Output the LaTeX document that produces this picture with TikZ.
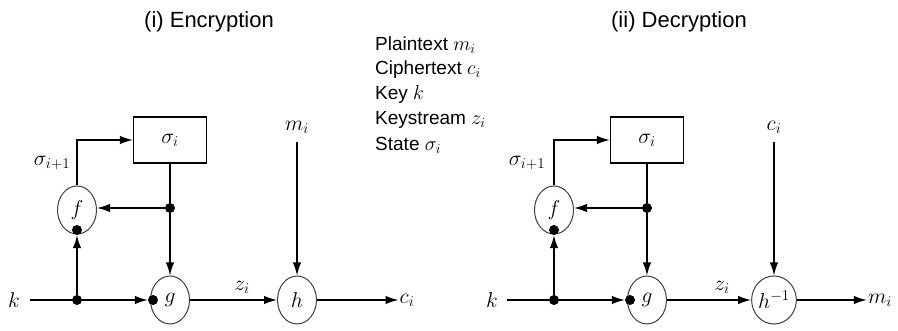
\documentclass[tikz,border=0pt]{standalone}
\usepackage{fontspec}
\setmainfont{Liberation Sans}
\DeclareFontShape{OML}{cmm}{m}{it}{<-7.5>cmmi7<7.5-11>cmmi10<11->cmmi12}{}
\DeclareFontShape{OT1}{cmr}{m}{n}{<-7.5>cmr7<7.5-11>cmr10<11->cmr12}{}
\DeclareFontShape{OMS}{cmsy}{m}{n}{<-7.5>cmsy7<7.5->cmsy10}{}
\DeclareMathSizes{21.5}{21.5}{15}{11}
\DeclareMathSizes{19}{20}{14}{10}
\usetikzlibrary{arrows.meta,shapes.geometric}
\begin{document}
\begin{tikzpicture}[x=1pt,y=-1pt,
  fn/.style={ellipse, draw=black!75, line width=1pt, minimum width=39pt, minimum height=48pt, inner sep=0pt, font=\fontsize{21.5}{25}\selectfont},
  stbox/.style={draw, line width=1.2pt, minimum width=73pt, minimum height=46pt, font=\fontsize{21.5}{25}\selectfont},
  dot/.style={circle, fill, inner sep=0pt, minimum size=10pt},
  arr/.style={-{Latex[length=13pt,width=8.5pt]}, line width=1.5pt},
  ln/.style={line width=1.5pt},
  lab/.style={font=\fontsize{21.5}{25}\selectfont, inner sep=1pt},
  ttl/.style={font=\fontsize{22}{26}\selectfont},
  leg/.style={font=\fontsize{19}{22}\selectfont, anchor=west, inner sep=0pt}]
\useasboundingbox (0,0) rectangle (898,331);
\fill[white] (0,0) rectangle (898,331);
% titles
\node[ttl] (t1) at (209,22) {(i) Encryption};
\node[ttl] (t2) at (679,22) {(ii) Decryption};
% legend
\node[leg] (l1) at (375,45) {Plaintext $m_i$};
\node[leg] (l2) at (375,70) {Ciphertext $c_i$};
\node[leg] (l3) at (375,95) {Key $k$};
\node[leg] (l4) at (375,120) {Keystream $z_i$};
\node[leg] (l5) at (375,145) {State $\sigma_i$};
% ---------- Encryption ----------
\node[fn] (ef) at (77,210) {$f$};
\node[fn] (eg) at (170,300) {$g$};
\node[fn] (eh) at (297,300) {$h$};
\node[stbox] (es) at (170,140) {$\sigma_i$};
\node[dot] (ej) at (77,300) {};
\node[dot] (ebr) at (170,208) {};
\node[dot] (efd) at (77,230) {};
\node[dot] (egd) at (153,300) {};
\node[lab] (ek) at (14,300) {$k$};
\coordinate (ekl) at (30,300);
\node[lab] (em) at (297,127) {$m_i$};
\coordinate (emt) at (297,142);
\node[lab] (ec) at (407,300) {$c_i$};
\node[lab] (esig) at (52,163) {$\sigma_{i+1}$};
\node[lab] (ez) at (242,287) {$z_i$};
\draw[ln] (ekl) -- (ej);
\draw[arr] (ej) -- (egd);
\draw[arr] (ej) -- (efd);
\draw[arr] (ef.north) |- (es.west);
\draw[ln] (es.south) -- (ebr);
\draw[arr] (ebr) -- (ef.east |- ebr);
\draw[arr] (ebr) -- (eg.north);
\draw[arr] (eg.east) -- (eh.west);
\draw[arr] (emt) -- (eh.north);
\draw[arr] (eh.east) -- (ec.west);
% ---------- Decryption ----------
\node[fn] (df) at (554,210) {$f$};
\node[fn] (dg) at (647,300) {$g$};
\node[fn] (dh) at (774,300) {$h^{-1}$};
\node[stbox] (ds) at (647,140) {$\sigma_i$};
\node[dot] (dj) at (554,300) {};
\node[dot] (dbr) at (647,208) {};
\node[dot] (dfd) at (554,230) {};
\node[dot] (dgd) at (630,300) {};
\node[lab] (dk) at (492,300) {$k$};
\coordinate (dkl) at (507,300);
\node[lab] (dc) at (774,127) {$c_i$};
\coordinate (dct) at (774,142);
\node[lab] (dm) at (880,300) {$m_i$};
\node[lab] (dsig) at (527,163) {$\sigma_{i+1}$};
\node[lab] (dz) at (722,287) {$z_i$};
\draw[ln] (dkl) -- (dj);
\draw[arr] (dj) -- (dgd);
\draw[arr] (dj) -- (dfd);
\draw[arr] (df.north) |- (ds.west);
\draw[ln] (ds.south) -- (dbr);
\draw[arr] (dbr) -- (df.east |- dbr);
\draw[arr] (dbr) -- (dg.north);
\draw[arr] (dg.east) -- (dh.west);
\draw[arr] (dct) -- (dh.north);
\draw[arr] (dh.east) -- (dm.west);
\end{tikzpicture}
\end{document}
